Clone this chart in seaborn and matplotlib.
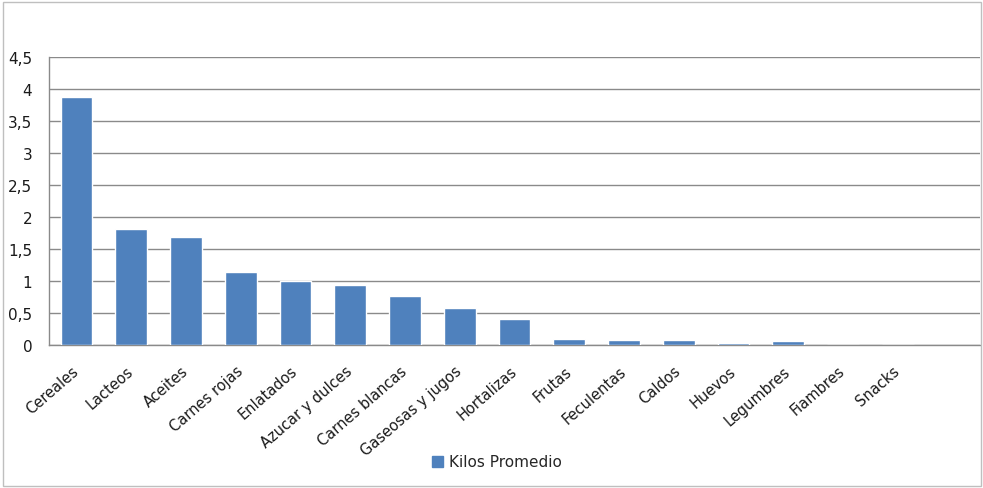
import matplotlib
matplotlib.use("Agg")
import matplotlib.pyplot as plt
import matplotlib.patches as mpatches
import seaborn as sns
import pandas as pd

categories = ["Cereales", "Lacteos", "Aceites", "Carnes rojas", "Enlatados",
              "Azucar y dulces", "Carnes blancas", "Gaseosas y jugos", "Hortalizas",
              "Frutas", "Feculentas", "Caldos", "Huevos", "Legumbres", "Fiambres", "Snacks"]
kilos = [3.88, 1.81, 1.69, 1.14, 1.0, 0.94, 0.77, 0.58, 0.41,
         0.10, 0.075, 0.075, 0.035, 0.06, 0.0, 0.0]
series_name = "Kilos Promedio"
yticks = [0, 0.5, 1, 1.5, 2, 2.5, 3, 3.5, 4, 4.5]
ytick_labels = ["0", "0,5", "1", "1,5", "2", "2,5", "3", "3,5", "4", "4,5"]

sns.set_theme(style="white")
plt.rcParams["font.family"] = ["DejaVu Sans"]

df = pd.DataFrame({"cat": categories, "val": kilos, "serie": series_name})

fig = plt.figure(figsize=(9.83, 4.89), dpi=100)
ax = fig.add_axes([49 / 983, 1 - 346 / 489, (980 - 49) / 983, (346 - 58) / 489])

sns.barplot(data=df, x="cat", y="val", hue="serie", palette=["#4F81BD"],
            width=0.58, ax=ax, saturation=1, legend=False, zorder=3)

fs = 11
ax.set_xlim(-0.5, len(categories) + 0.5)
ax.set_ylim(0, 4.5)
ax.set_yticks(yticks)
ax.set_yticklabels(ytick_labels, fontsize=fs, color="#1a1a1a")
ax.set_xticks(range(len(categories)))
ax.set_xticklabels(categories, rotation=41, ha="right", va="center",
                   rotation_mode="anchor", fontsize=10.5, color="#1a1a1a")
ax.tick_params(axis="x", length=0, pad=17)
ax.tick_params(axis="y", length=0, pad=12)
ax.set_xlabel("")
ax.set_ylabel("")
ax.yaxis.grid(True, color="#8a8a8a", linewidth=1.0, zorder=0)
ax.set_axisbelow(True)
for s in ["top", "right"]:
    ax.spines[s].set_visible(False)
for s in ["left", "bottom"]:
    ax.spines[s].set_color("#8a8a8a")
    ax.spines[s].set_linewidth(1.0)

handle = mpatches.Patch(color="#4F81BD", label=series_name)
fig.legend(handles=[handle], loc="center", bbox_to_anchor=(497 / 983, 1 - 463 / 489),
           frameon=False, fontsize=fs, handlelength=0.7, handleheight=0.7,
           handletextpad=0.4)

border = mpatches.Rectangle((3 / 983, 2 / 489), 978 / 983, 484 / 489,
                            transform=fig.transFigure, fill=False,
                            edgecolor="#bfbfbf", linewidth=1.0)
fig.patches.append(border)

fig.savefig("out.png", dpi=100)
